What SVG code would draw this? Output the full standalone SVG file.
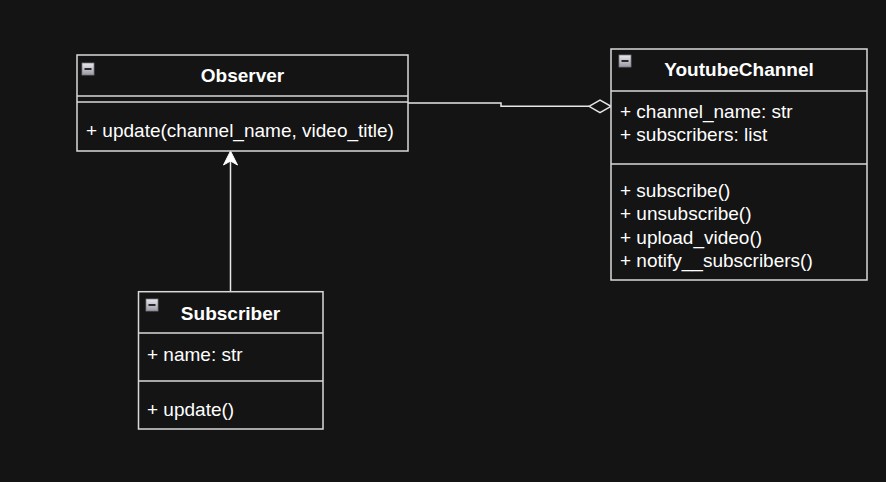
<svg xmlns="http://www.w3.org/2000/svg" width="886" height="482" viewBox="0 0 886 482">
<defs>
<style>
.box{fill:#141414;stroke:#d9d9d9;stroke-width:1.5}
.div{stroke:#d9d9d9;stroke-width:1.5;fill:none}
.title{font-family:"Liberation Sans",Arial,sans-serif;font-size:19px;font-weight:bold;fill:#ffffff;text-anchor:middle}
.txt{font-family:"Liberation Sans",Arial,sans-serif;font-size:19px;fill:#ffffff}
.conn{stroke:#e6e6e6;stroke-width:1.5;fill:none}
</style>
<linearGradient id="ig" x1="0" y1="0" x2="0" y2="1">
<stop offset="0" stop-color="#e8e8ee"/>
<stop offset="1" stop-color="#9a9aa6"/>
</linearGradient>
<g id="icon">
<rect x="0" y="0" width="12" height="12" fill="url(#ig)" stroke="#7a7a80" stroke-width="0.8"/>
<rect x="2.5" y="5" width="7" height="2" fill="#2a2a2a"/>
</g>
</defs>
<rect width="886" height="482" fill="#141414"/>

<g id="connectors">
<path class="conn" d="M408 103 H501 V106.3 H589"/>
<path d="M589 106.3 L600 100 L611 106.3 L600 112.6 Z" fill="#141414" stroke="#e6e6e6" stroke-width="1.5"/>
<path class="conn" d="M230.5 291.7 V158"/>
<path d="M230.5 151 L237.5 165 L230.5 161 L223.5 165 Z" fill="#ffffff" stroke="#ffffff" stroke-width="1"/>
</g>

<g id="observer">
<rect class="box" x="77" y="55" width="331" height="96"/>
<line class="div" x1="77" y1="96" x2="408" y2="96"/>
<line class="div" x1="77" y1="102" x2="408" y2="102"/>
<use href="#icon" x="82" y="63"/>
<text class="title" x="242.5" y="82">Observer</text>
<text class="txt" x="86" y="137">+ update(channel_name, video_title)</text>
</g>

<g id="youtubechannel">
<rect class="box" x="611" y="49" width="256" height="231"/>
<line class="div" x1="611" y1="91" x2="867" y2="91"/>
<line class="div" x1="611" y1="164" x2="867" y2="164"/>
<use href="#icon" x="619" y="55"/>
<text class="title" x="739" y="76">YoutubeChannel</text>
<text class="txt" x="620" y="118">+ channel_name: str</text>
<text class="txt" x="620" y="141">+ subscribers: list</text>
<text class="txt" x="620" y="197">+ subscribe()</text>
<text class="txt" x="620" y="220">+ unsubscribe()</text>
<text class="txt" x="620" y="244">+ upload_video()</text>
<text class="txt" x="620" y="267">+ notify__subscribers()</text>
</g>

<g id="subscriber">
<rect class="box" x="138.5" y="291.7" width="184.5" height="137.3"/>
<line class="div" x1="138.5" y1="333" x2="323" y2="333"/>
<line class="div" x1="138.5" y1="381" x2="323" y2="381"/>
<use href="#icon" x="146" y="299"/>
<text class="title" x="230.5" y="320">Subscriber</text>
<text class="txt" x="147" y="361">+ name: str</text>
<text class="txt" x="147" y="416">+ update()</text>
</g>
</svg>
